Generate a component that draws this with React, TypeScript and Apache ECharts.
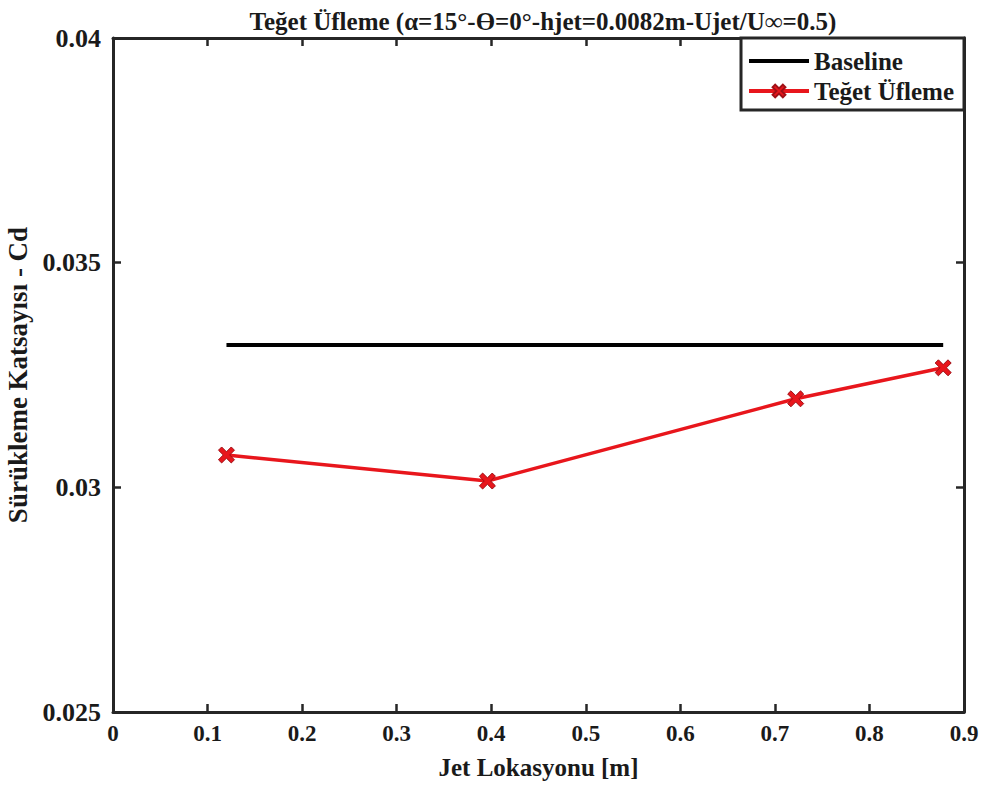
import React, { useEffect, useRef } from "react";
import * as echarts from "echarts";

const titleText = "Teğet Üfleme (α=15°-ϴ=0°-hjet=0.0082m-Ujet/U∞=0.5)";
const xAxisName = "Jet Lokasyonu [m]";
const yAxisName = "Sürükleme Katsayısı - Cd";

const baselineX = [0.12, 0.878];
const baselineY = [0.03317, 0.03317];

const tegetX = [0.12, 0.396, 0.722, 0.878];
const tegetY = [0.03072, 0.03014, 0.03197, 0.03266];

const xMin = 0, xMax = 0.9, xStep = 0.1;
const yMin = 0.025, yMax = 0.04, yStep = 0.005;

const FONT = "Liberation Serif, Times New Roman, serif";
const AXIS_COLOR = "#262626";
const RED = "#e8161c";
const X_SYMBOL = "path://M2,0 L5,3 L8,0 L10,2 L7,5 L10,8 L8,10 L5,7 L2,10 L0,8 L3,5 L0,2 Z";
const LINE_ICON = "path://M0,0 L60,0 L60,4 L0,4 Z";

export default function App() {
  const ref = useRef<HTMLDivElement>(null);
  useEffect(() => {
    if (!ref.current) return;
    const chart = echarts.init(ref.current, undefined, { renderer: "svg" });
    const axisLine = { show: true, onZero: false, lineStyle: { color: AXIS_COLOR, width: 3 } };
    const axisTick = { show: true, inside: true, length: 8, lineStyle: { color: AXIS_COLOR, width: 2.5 } };
    chart.setOption({
      animation: false,
      backgroundColor: "#ffffff",
      textStyle: { fontFamily: FONT },
      title: {
        text: titleText,
        left: 538,
        textAlign: "center",
        top: 4,
        textStyle: { fontFamily: FONT, fontWeight: "bold", fontSize: 25, color: "#1a1a1a" },
      },
      grid: { left: 113, right: 20, top: 38, bottom: 78, containLabel: false, outerBoundsMode: "none" },
      legend: {
        orient: "vertical",
        right: 20,
        top: 38,
        padding: [10, 10, 6, 6],
        itemGap: 4,
        itemWidth: 60,
        itemHeight: 16,
        borderColor: AXIS_COLOR,
        borderWidth: 3,
        borderRadius: 0,
        backgroundColor: "#ffffff",
        textStyle: { fontFamily: FONT, fontWeight: "bold", fontSize: 25, color: "#1a1a1a", lineHeight: 26 },
        data: [
          { name: "Baseline", icon: LINE_ICON, itemStyle: { color: "#000000" } },
          { name: "Teğet Üfleme", lineStyle: { width: 4, color: RED } },
        ],
      },
      xAxis: [
        {
          type: "value", min: xMin, max: xMax, interval: xStep, position: "bottom",
          name: xAxisName, nameLocation: "middle", nameGap: 43,
          nameTextStyle: { fontFamily: FONT, fontWeight: "bold", fontSize: 25, color: "#1a1a1a" },
          axisLine, axisTick, splitLine: { show: false },
          axisLabel: {
            margin: 10, fontFamily: FONT, fontWeight: "bold", fontSize: 23, color: "#1a1a1a",
            formatter: (v: number) => String(Math.round(v * 10) / 10),
          },
        },
        {
          type: "value", min: xMin, max: xMax, interval: xStep, position: "top",
          axisLine, axisTick, splitLine: { show: false }, axisLabel: { show: false },
        },
      ],
      yAxis: [
        {
          type: "value", min: yMin, max: yMax, interval: yStep, position: "left",
          name: yAxisName, nameLocation: "middle", nameGap: 77, nameRotate: 90,
          nameTextStyle: { fontFamily: FONT, fontWeight: "bold", fontSize: 27, color: "#1a1a1a" },
          axisLine, axisTick, splitLine: { show: false },
          axisLabel: {
            margin: 12, fontFamily: FONT, fontWeight: "bold", fontSize: 26, color: "#1a1a1a",
            formatter: (v: number) => String(Math.round(v * 1000) / 1000),
          },
        },
        {
          type: "value", min: yMin, max: yMax, interval: yStep, position: "right",
          axisLine, axisTick, splitLine: { show: false }, axisLabel: { show: false },
        },
      ],
      series: [
        {
          name: "Baseline", type: "line", xAxisIndex: 0, yAxisIndex: 0,
          data: baselineX.map((x, i) => [x, baselineY[i]]),
          symbol: "none",
          lineStyle: { color: "#000000", width: 4 },
          itemStyle: { color: "#000000" },
        },
        {
          name: "Teğet Üfleme", type: "line", xAxisIndex: 0, yAxisIndex: 0,
          data: tegetX.map((x, i) => [x, tegetY[i]]),
          symbol: X_SYMBOL, symbolSize: 16,
          lineStyle: { color: RED, width: 3.5 },
          itemStyle: { color: RED, borderColor: "#a01016", borderWidth: 1 },
        },
      ],
    });
    return () => chart.dispose();
  }, []);
  return <div ref={ref} style={{ width: 984, height: 790, position: "absolute", left: 0, top: 0 }} />;
}
